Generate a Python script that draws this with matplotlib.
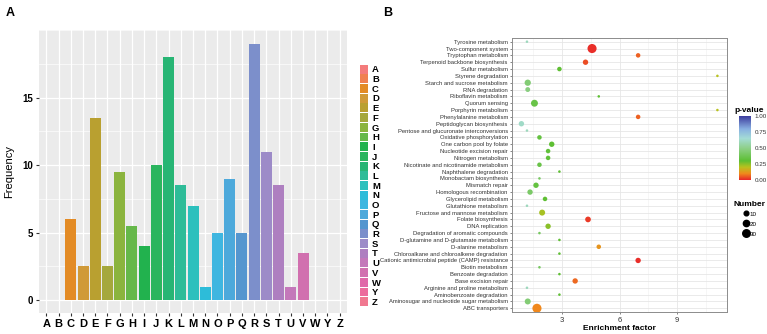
import numpy as np
import matplotlib
matplotlib.use('Agg')
import matplotlib.pyplot as plt
from matplotlib.patches import Patch
from matplotlib.lines import Line2D
from matplotlib.colors import LinearSegmentedColormap
from matplotlib.ticker import MultipleLocator
from matplotlib import font_manager

# ---- panel A data (COG class frequency) ----
cog_classes = ['A', 'B', 'C', 'D', 'E', 'F', 'G', 'H', 'I', 'J', 'K', 'L', 'M',
               'N', 'O', 'P', 'Q', 'R', 'S', 'T', 'U', 'V', 'W', 'Y', 'Z']
cog_freq = [0, 0, 6, 2.5, 13.5, 2.5, 9.5, 5.5, 4, 10, 18, 8.5, 7,
            1, 5, 9, 5, 19, 11, 8.5, 1, 3.5, 0, 0, 0]

# ---- panel B data (KEGG enrichment), top to bottom ----
pathways = [
    'Tyrosine metabolism', 'Two-component system', 'Tryptophan metabolism',
    'Terpenoid backbone biosynthesis', 'Sulfur metabolism', 'Styrene degradation',
    'Starch and sucrose metabolism', 'RNA degradation', 'Riboflavin metabolism',
    'Quorum sensing', 'Porphyrin metabolism', 'Phenylalanine metabolism',
    'Peptidoglycan biosynthesis', 'Pentose and glucuronate interconversions',
    'Oxidative phosphorylation', 'One carbon pool by folate',
    'Nucleotide excision repair', 'Nitrogen metabolism',
    'Nicotinate and nicotinamide metabolism', 'Naphthalene degradation',
    'Monobactam biosynthesis', 'Mismatch repair', 'Homologous recombination',
    'Glycerolipid metabolism', 'Glutathione metabolism',
    'Fructose and mannose metabolism', 'Folate biosynthesis', 'DNA replication',
    'Degradation of aromatic compounds', 'D-glutamine and D-glutamate metabolism',
    'D-alanine metabolism', 'Chloroalkane and chloroalkene degradation',
    'Cationic antimicrobial peptide (CAMP) resistance', 'Biotin metabolism',
    'Benzoate degradation', 'Base excision repair', 'Arginine and proline metabolism',
    'Aminobenzoate degradation', 'Aminosugar and nucleotide sugar metabolism',
    'ABC transporters']
enrichment = [1.18, 4.57, 6.97, 4.23, 2.87, 11.1,
              1.22, 1.22, 4.92, 1.57, 11.1, 6.97,
              0.89, 1.18, 1.83, 2.47, 2.28, 2.28,
              1.83, 2.87, 1.83, 1.65, 1.34, 2.12,
              1.18, 1.97, 4.36, 2.28, 1.83, 2.87,
              4.92, 2.87, 6.97, 1.83, 2.87, 3.69,
              1.18, 2.87, 1.22, 1.70]
gene_number = [1, 45, 9, 14, 9, 1,
               20, 11, 1, 25, 1, 9,
               14, 1, 9, 14, 9, 9,
               9, 1, 1, 14, 14, 9,
               1, 18, 16, 14, 1, 1,
               9, 1, 14, 1, 1, 14,
               1, 1, 18, 45]
p_value = [0.6, 0.01, 0.06, 0.04, 0.3, 0.2,
           0.45, 0.48, 0.3, 0.35, 0.2, 0.06,
           0.62, 0.6, 0.33, 0.3, 0.32, 0.32,
           0.35, 0.3, 0.4, 0.33, 0.42, 0.3,
           0.6, 0.22, 0.02, 0.25, 0.4, 0.3,
           0.12, 0.3, 0.01, 0.4, 0.3, 0.07,
           0.6, 0.3, 0.45, 0.1]
size_legend = [10, 20, 30]

# one colour per COG class
cog_colors = ['#F47B7B', '#F08050', '#E38B25', '#D09A38', '#B9A030', '#A5A83C',
              '#8BB43E', '#66B84A', '#22B24E', '#2AB55E', '#27B574', '#2EBC98',
              '#2CC0BD', '#2DBCD9', '#3FB6E0', '#4DA9DB', '#5596CF', '#7C8FCB',
              '#9D8BC8', '#AE7FC0', '#C478BA', '#D170AF', '#E068A8', '#EC6C9C',
              '#F07890']


def point_size(n):
    return 2.5 + np.asarray(n) * 0.9


plt.rcParams['font.family'] = ['Liberation Sans', 'DejaVu Sans']
installed = {f.name for f in font_manager.fontManager.ttflist}
narrow = 'Liberation Sans Narrow' if 'Liberation Sans Narrow' in installed else 'Liberation Sans'
label_size = 5.2 if narrow == 'Liberation Sans Narrow' else 4.2

fig = plt.figure(figsize=(7.67, 3.34), dpi=100)
W, H = 767, 334


def fig_rect(x0, y0, x1, y1):
    return [x0 / W, 1 - y1 / H, (x1 - x0) / W, (y1 - y0) / H]


# ---------------- panel A ----------------
axa = fig.add_axes(fig_rect(39, 30, 347, 313))
xpos = np.arange(len(cog_classes))
axa.set_facecolor('#EBEBEB')
axa.bar(xpos, cog_freq, width=0.9, color=cog_colors, zorder=3)
axa.set_xlim(-0.6, len(cog_classes) - 0.4)
axa.set_ylim(-0.96, 20.0)
axa.set_xticks(xpos)
axa.set_xticklabels(cog_classes, fontsize=8, fontweight='bold')
axa.set_yticks([0, 5, 10, 15])
axa.set_yticklabels(['0', '5', '10', '15'], fontsize=7, fontweight='bold')
axa.yaxis.set_minor_locator(MultipleLocator(2.5))
axa.grid(which='major', color='white', linewidth=0.9, zorder=0)
axa.grid(which='minor', axis='y', color='white', linewidth=0.45, zorder=0)
axa.set_axisbelow(True)
for s in axa.spines.values():
    s.set_visible(False)
axa.tick_params(axis='both', length=2, color='#333333', pad=2)
axa.tick_params(which='minor', length=0)
axa.set_ylabel('Frequency', fontsize=8, labelpad=6)

handles = [Patch(facecolor=col, edgecolor='none') for col in cog_colors]
fig.legend(handles, cog_classes, loc='upper left', bbox_to_anchor=(355 / W, 1 - 60 / H),
           frameon=False, handlelength=0.85, handleheight=1.08,
           labelspacing=0.0, handletextpad=0.45, borderpad=0,
           prop={'weight': 'bold', 'size': 6.8})

fig.text(6 / W, 1 - 13 / H, 'A', fontsize=9, fontweight='bold', va='center')
fig.text(383 / W, 1 - 13 / H, 'B', fontsize=9, fontweight='bold', va='center')

# ---------------- panel B ----------------
axb = fig.add_axes(fig_rect(512, 37.6, 727, 312.4))
cmap = LinearSegmentedColormap.from_list('pv', [
    (0.0, '#e8262a'), (0.1, '#f08a1c'), (0.2, '#b9c21f'), (0.3, '#5cbf33'),
    (0.5, '#8fd08a'), (0.65, '#a4dcd6'), (0.8, '#88b0e2'), (1.0, '#3d3d9e')])
ypos = np.arange(len(pathways))[::-1]
axb.scatter(enrichment, ypos, s=point_size(gene_number), c=p_value,
            cmap=cmap, vmin=0, vmax=1, linewidths=0, zorder=3)
axb.set_xlim(0.4, 11.6)
axb.set_ylim(-0.6, len(pathways) - 0.4)
axb.set_yticks(ypos)
axb.set_yticklabels(pathways, fontsize=label_size, color='#333333', family=[narrow, 'DejaVu Sans'])
axb.set_xticks([3, 6, 9])
axb.set_xticklabels(['3', '6', '9'], fontsize=5.5, color='#333333')
axb.xaxis.set_minor_locator(MultipleLocator(1.5))
axb.grid(which='major', color='#E6E6E6', linewidth=0.6, zorder=0)
axb.grid(which='minor', axis='x', color='#EFEFEF', linewidth=0.4, zorder=0)
axb.set_axisbelow(True)
for s in axb.spines.values():
    s.set_color('#8c8c8c')
    s.set_linewidth(0.7)
axb.tick_params(axis='both', length=1.5, width=0.5, color='#555555', pad=1.5)
axb.tick_params(which='minor', length=0)
axb.set_xlabel('Enrichment factor', fontsize=6, fontweight='bold', labelpad=1)

# colorbar
cax = fig.add_axes(fig_rect(739, 116, 751, 180))
grad = np.linspace(0, 1, 256).reshape(-1, 1)
cax.imshow(grad, aspect='auto', cmap=cmap, origin='lower', extent=[0, 1, 0, 1])
cax.set_xticks([])
cax.yaxis.tick_right()
cax.set_yticks([0, 0.25, 0.5, 0.75, 1.0])
cax.set_yticklabels(['0.00', '0.25', '0.50', '0.75', '1.00'], fontsize=4.5, color='#333333')
cax.tick_params(axis='y', length=1.5, width=0.5, color='white', pad=1)
for s in cax.spines.values():
    s.set_visible(False)
fig.text(734 / W, 1 - 110 / H, 'p-value', fontsize=6, fontweight='bold', va='center')

# size legend
fig.text(734 / W, 1 - 204 / H, 'Number', fontsize=6, fontweight='bold', va='center')
size_handles = [Line2D([], [], linestyle='none', marker='o', color='black',
                       markersize=np.sqrt(point_size(n))) for n in size_legend]
fig.legend(size_handles, [str(n) for n in size_legend], loc='upper left',
           bbox_to_anchor=(740 / W, 1 - 208 / H), frameon=False, fontsize=4.5,
           handlelength=0.9, handletextpad=0.1, labelspacing=0.75, borderpad=0)

fig.savefig('out.png', dpi=100)
